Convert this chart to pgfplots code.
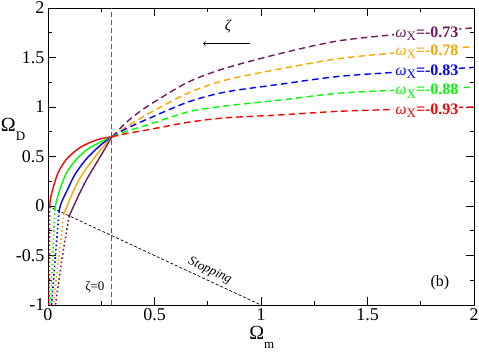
\documentclass[border=0pt]{standalone}
\usepackage{fontspec}
\setmainfont{Liberation Serif}
\usepackage{pgfplots}
\pgfplotsset{compat=1.18}
\usetikzlibrary{calc}
\definecolor{cpur}{HTML}{6E1A5C}
\definecolor{corg}{HTML}{FFA500}
\definecolor{cblu}{HTML}{0000FF}
\definecolor{cgrn}{HTML}{00FF00}
\definecolor{cred}{HTML}{FF0000}
\tikzset{
  sol/.style={line width=1.4pt, smooth},
  dsh/.style={line width=1.4pt, smooth, dash pattern=on 6.5pt off 4pt},
  dot/.style={line width=1.6pt, smooth, dash pattern=on 1.6pt off 2.6pt},
  lab/.style={fill=white, inner sep=1pt, anchor=west, font=\fontsize{16}{16}\selectfont},
}
\newcommand{\wx}[1]{\textit{ω}\raisebox{-0.45ex}{\fontsize{13}{13}\selectfont X}\textbf{=#1}}
\begin{document}
\begin{tikzpicture}
\begin{axis}[
  scale only axis,
  width=426pt, height=297pt,
  xmin=0, xmax=2, ymin=-1, ymax=2,
  xtick={0,0.5,1,1.5,2},
  ytick={-1,-0.5,0,0.5,1,1.5,2},
  minor tick num=1,
  tick align=inside,
  major tick length=8pt, minor tick length=4pt,
  tick style={black, line width=0.8pt},
  axis line style={line width=0.9pt},
  tick label style={font=\fontsize{18}{18}\selectfont},
  /pgf/number format/assume math mode=true,
  xlabel={Ω\raisebox{-0.45em}{\fontsize{13}{13}\selectfont m}},
  ylabel={Ω\raisebox{-0.45em}{\fontsize{13}{13}\selectfont D}},
  label style={font=\fontsize{20}{20}\selectfont},
  xlabel style={at={(axis description cs:0.502,-0.11)}, anchor=center},
  ylabel style={at={(axis description cs:-0.082,0.59)}, anchor=center, rotate=-90},
  clip=false,
]
% stopping line and today
\addplot[black, line width=0.7pt, dash pattern=on 3pt off 2pt] coordinates {(0,0) (1,-1)};
\addplot[black!65, line width=0.9pt, dash pattern=on 5pt off 3pt] coordinates {(0.3,-1) (0.3,2)};

% dotted parts
\addplot[dot, cred] coordinates {(0.008,-0.008) (0.007,-0.5) (0.004,-1)};
\addplot[dot, cgrn] coordinates {(0.032,-0.032) (0.022,-0.5) (0.010,-1)};
\addplot[dot, cblu] coordinates {(0.052,-0.052) (0.035,-0.5) (0.017,-1)};
\addplot[dot, corg] coordinates {(0.075,-0.075) (0.051,-0.5) (0.025,-1)};
\addplot[dot, cpur] coordinates {(0.100,-0.100) (0.068,-0.5) (0.035,-1)};

% solid parts
\addplot[sol, cred] coordinates {(0.008,-0.008) (0.012,0.08) (0.025,0.19) (0.048,0.34) (0.088,0.475) (0.15,0.59) (0.229,0.668) (0.3,0.7)};
\addplot[sol, cgrn] coordinates {(0.032,-0.032) (0.040,0.05) (0.056,0.17) (0.088,0.34) (0.135,0.475) (0.197,0.59) (0.3,0.7)};
\addplot[sol, cblu] coordinates {(0.052,-0.052) (0.062,0.03) (0.088,0.15) (0.127,0.32) (0.18,0.475) (0.244,0.61) (0.3,0.7)};
\addplot[sol, corg] coordinates {(0.075,-0.075) (0.119,0.15) (0.158,0.31) (0.213,0.475) (0.262,0.605) (0.3,0.7)};
\addplot[sol, cpur] coordinates {(0.100,-0.100) (0.142,0.10) (0.182,0.27) (0.229,0.44) (0.276,0.61) (0.3,0.7)};

% dashed parts
\addplot[dsh, cpur] coordinates {(0.3,0.7) (0.376,0.86) (0.469,1.01) (0.657,1.25) (0.83,1.39) (1.09,1.54) (1.37,1.67) (1.7,1.745) (2.0,1.80)};
\addplot[dsh, corg] coordinates {(0.3,0.7) (0.376,0.81) (0.469,0.93) (0.657,1.14) (0.83,1.27) (1.09,1.385) (1.37,1.49) (1.7,1.56) (2.0,1.61)};
\addplot[dsh, cblu] coordinates {(0.3,0.7) (0.376,0.79) (0.469,0.88) (0.657,1.05) (0.83,1.15) (1.09,1.23) (1.37,1.31) (1.7,1.36) (2.0,1.40)};
\addplot[dsh, cgrn] coordinates {(0.3,0.7) (0.376,0.76) (0.469,0.82) (0.657,0.95) (0.83,1.01) (1.09,1.07) (1.37,1.14) (1.7,1.175) (2.0,1.20)};
\addplot[dsh, cred] coordinates {(0.3,0.7) (0.376,0.735) (0.469,0.77) (0.657,0.845) (0.83,0.89) (1.09,0.92) (1.37,0.957) (1.7,0.98) (2.0,1.00)};

% labels
\node[lab, text=cpur] at (axis cs:1.625,1.74) {\wx{-0.73}};
\node[lab, text=corg] at (axis cs:1.625,1.56) {\wx{-0.78}};
\node[lab, text=cblu] at (axis cs:1.625,1.36) {\wx{-0.83}};
\node[lab, text=cgrn] at (axis cs:1.625,1.16) {\wx{-0.88}};
\node[lab, text=cred] at (axis cs:1.625,0.96) {\wx{-0.93}};

\node[rotate=-24.9, font=\itshape\fontsize{13}{13}\selectfont] at (axis cs:0.76,-0.655) {Stopping};
\node[font=\fontsize{13}{13}\selectfont] at (axis cs:0.22,-0.82) {ζ=0};
\node[font=\fontsize{16}{16}\selectfont] at (axis cs:1.84,-0.77) {(b)};
\draw[->, line width=0.8pt] (axis cs:0.948,1.64) -- (axis cs:0.728,1.64);
\node[font=\itshape\fontsize{15}{15}\selectfont] at (axis cs:0.845,1.81) {ζ};
\end{axis}
\pgfresetboundingbox
\path ($(current axis.south west)+(-48pt,-48pt)$) rectangle ($(current axis.north east)+(5pt,8pt)$);
\end{tikzpicture}
\end{document}
